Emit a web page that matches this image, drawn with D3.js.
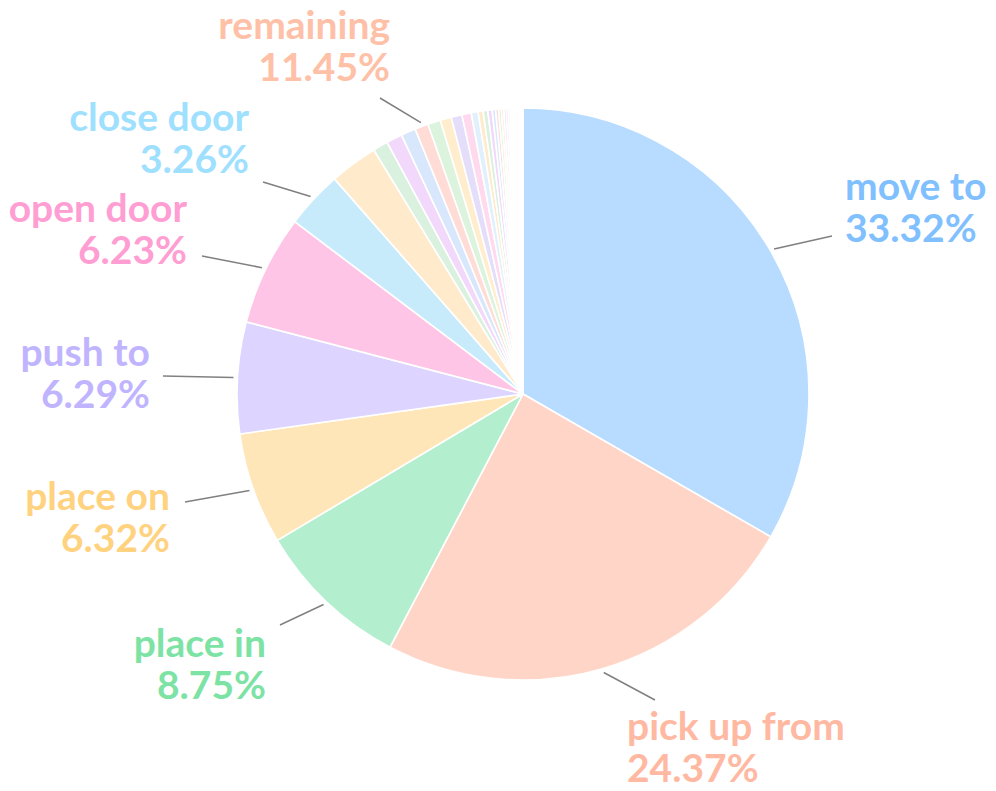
<!doctype html>
<html>
<head>
  <meta charset="utf-8">
  <title>Action share pie</title>
  <style>
    html, body { margin: 0; padding: 0; background: #fff; }
    svg text { font-family: Lato, "Open Sans", sans-serif; font-weight: 700; }
  </style>
</head>
<body>
  <svg id="chart"></svg>

  <script src="https://d3js.org/d3.v7.min.js"></script>
  <script>
    // data (percent of all actions)
    const categories = ["move to", "pick up from", "place in", "place on", "push to", "open door", "close door"];
    const shares = [33.32, 24.37, 8.75, 6.32, 6.29, 6.23, 3.26];
    // the long tail, drawn slice by slice but labelled once
    const remainingName = "remaining";
    const remainingShares = [2.72, 0.85, 0.90, 0.83, 0.76, 0.72, 0.63, 0.61, 0.53,
      0.39, 0.28, 0.26, 0.25, 0.19, 0.17,
      0.15, 0.14, 0.13, 0.12, 0.11, 0.10, 0.09, 0.08, 0.07, 0.06,
      0.05, 0.05, 0.04, 0.04, 0.03, 0.03, 0.02, 0.02, 0.02, 0.01];

    // colours
    const fills = ["#b8dcff", "#ffd5c8", "#b3efcf", "#ffe6b8", "#ddd5ff", "#ffc5e6", "#c8ebfc"];
    const labelColors = ["#80c0ff", "#ffb9a2", "#7de3a5", "#ffd27f", "#c0b4ff", "#ff9ed2", "#9fe0ff"];
    const tailFills = ["#ffeacc", "#d9f1de", "#f2d9fb", "#d9e7fc", "#ffdcd5", "#dcf3dd", "#ffedcd", "#e5defb", "#ffd9ed", "#e0f1fd"];
    const remainingColor = "#ffc0a8";

    // layout
    const width = 996, height = 791;
    const cx = 523, cy = 394, radius = 286;
    const fontSize = 39, lineGap = 42;
    // label anchors relative to the pie centre: [leaderEndX, leaderEndY, textX, firstBaselineY, anchor]
    const labelLayout = {
      "move to":      [309, -158, 322, -194, "start"],
      "pick up from": [132, 306, 104, 346, "start"],
      "place in":     [-243, 231, -257, 263, "end"],
      "place on":     [-338, 108, -353, 116, "end"],
      "push to":      [-360, -18, -373, -28, "end"],
      "open door":    [-321, -138, -336, -172, "end"],
      "close door":   [-260, -212, -274, -263, "end"],
      "remaining":    [-143, -296, -133, -355, "end"]
    };

    const svg = d3.select("#chart")
        .attr("width", width)
        .attr("height", height);

    const g = svg.append("g")
        .attr("transform", `translate(${cx},${cy})`);

    const slices = categories.map((c, i) => ({ group: c, value: shares[i], fill: fills[i] }))
      .concat(remainingShares.map((v, i) => ({ group: remainingName, value: v, fill: tailFills[i % tailFills.length] })));

    const pie = d3.pie().sort(null).value(d => d.value);
    const arcs = pie(slices);

    const arc = d3.arc().innerRadius(0).outerRadius(radius);

    g.selectAll("path.slice")
      .data(arcs)
      .join("path")
        .attr("class", "slice")
        .attr("d", arc)
        .style("fill", d => d.data.fill)
        .style("stroke", "#fff")
        .style("stroke-width", 1.6)
        .style("stroke-linejoin", "round");

    // one label per group
    const groups = categories.concat([remainingName]).map((name, i) => {
      const parts = arcs.filter(a => a.data.group === name);
      return {
        name: name,
        value: d3.sum(parts, a => a.data.value),
        start: d3.min(parts, a => a.startAngle),
        end: d3.max(parts, a => a.endAngle),
        color: i < labelColors.length ? labelColors[i] : remainingColor
      };
    });

    const fmt = d3.format(".2f");

    groups.forEach(d => {
      const lay = labelLayout[d.name];
      const mid = (d.start + d.end) / 2;
      const r0 = radius + 4;
      g.append("line")
          .attr("x1", Math.sin(mid) * r0)
          .attr("y1", -Math.cos(mid) * r0)
          .attr("x2", lay[0])
          .attr("y2", lay[1])
          .style("stroke", "#808080")
          .style("stroke-width", 1.5);

      const t = g.append("text")
          .attr("x", lay[2])
          .attr("y", lay[3])
          .attr("text-anchor", lay[4])
          .style("font-size", fontSize + "px")
          .style("fill", d.color);
      t.append("tspan")
          .attr("x", lay[2])
          .text(d.name);
      t.append("tspan")
          .attr("x", lay[2])
          .attr("dy", lineGap)
          .text(fmt(d.value) + "%");
    });
  </script>
</body>
</html>
